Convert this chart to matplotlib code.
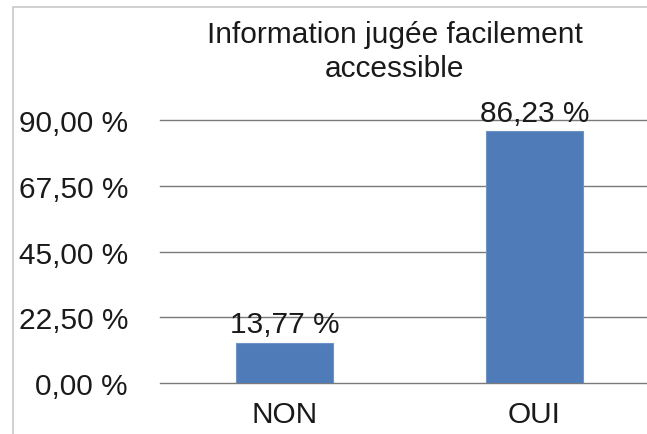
import matplotlib.pyplot as plt
from matplotlib.patches import Rectangle

categories = ['NON', 'OUI']
values = [13.77, 86.23]
yticks = [0, 22.5, 45, 67.5, 90]

plt.rcParams['font.family'] = ['Liberation Sans', 'DejaVu Sans']
fs = 21.5

fig = plt.figure(figsize=(6.47, 4.35), dpi=100)
ax = fig.add_axes([160 / 647, 51 / 435, 499 / 647, 263 / 435])

x = range(len(categories))
ax.bar(x, values, width=0.39, color='#4F7BB8', edgecolor='#6E93C8', linewidth=0.8, zorder=3)
for xi, v in zip(x, values):
    ax.text(xi, v + 1.5, f'{v:.2f} %'.replace('.', ','), ha='center', va='bottom', fontsize=fs, color='#1a1a1a', zorder=4)

ax.set_xlim(-0.5, 1.5)
ax.set_ylim(0, 90)
ax.set_yticks(yticks)
ax.set_yticklabels([f'{t:.2f} %'.replace('.', ',') for t in yticks], fontsize=fs, color='#1a1a1a')
ax.set_xticks(list(x))
ax.set_xticklabels(categories, fontsize=fs, color='#1a1a1a')
ax.tick_params(length=0, axis='y', pad=23)
ax.tick_params(length=0, axis='x', pad=12)
ax.yaxis.grid(True, color='#7a7a7a', linewidth=1)
for gl in ax.get_ygridlines():
    gl.set_clip_on(False)
ax.set_axisbelow(True)
for s in ax.spines.values():
    s.set_visible(False)

fig.text(395 / 647, 1 - 35 / 435, 'Information jugée facilement', ha='center', va='center', fontsize=fs, color='#1a1a1a')
fig.text(395 / 647, 1 - 69 / 435, 'accessible', ha='center', va='center', fontsize=fs, color='#1a1a1a')

fig.patches.append(Rectangle((13 / 647, -0.1), 1.2, 1 - 8 / 435 + 0.1, transform=fig.transFigure,
                             fill=False, edgecolor='#c8c8c8', linewidth=1.2))

fig.savefig('out.png', dpi=100)
